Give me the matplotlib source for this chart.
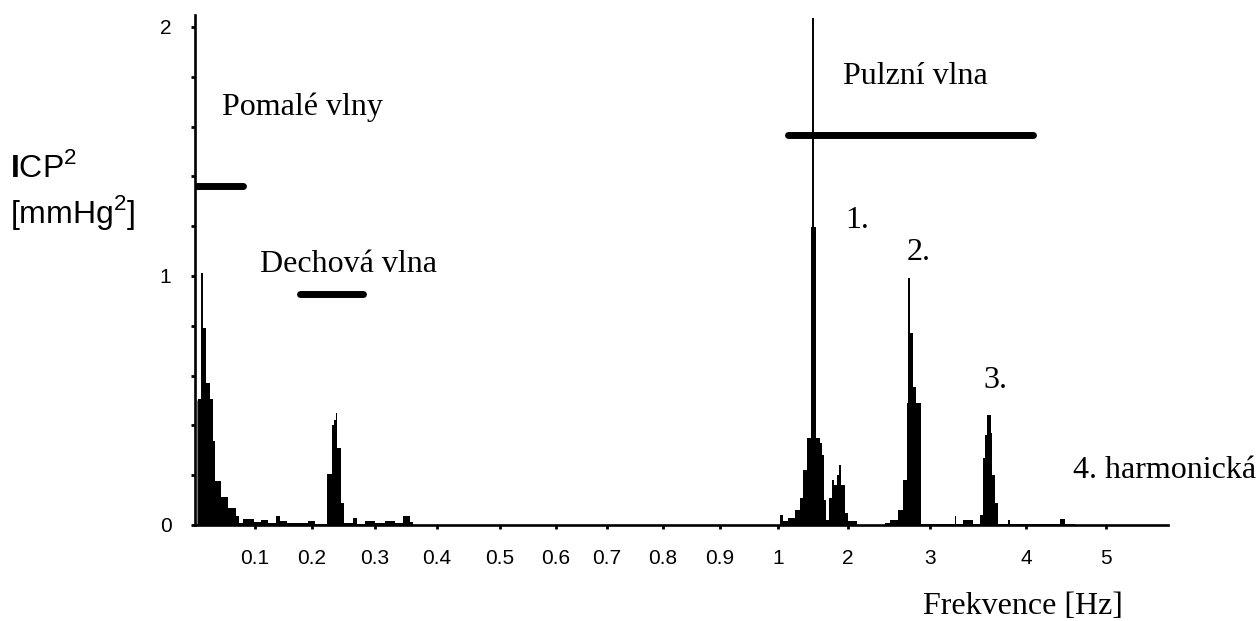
import numpy as np
import matplotlib
matplotlib.use("Agg")
import matplotlib.pyplot as plt

plt.rcParams["font.family"] = "Liberation Sans"
plt.rcParams["xtick.labelsize"] = 15
plt.rcParams["ytick.labelsize"] = 15
plt.rcParams["mathtext.fontset"] = "custom"
plt.rcParams["mathtext.rm"] = "Liberation Sans"
plt.rcParams["mathtext.bf"] = "Liberation Sans:bold"

# frequency axis is piecewise: fine steps below 1 Hz, coarse above
tick_hz = [0, 0.1, 0.2, 0.3, 0.4, 0.5, 0.6, 0.7, 0.8, 0.9, 1, 2, 3, 4, 5, 5.77]
tick_pos = [0, 60, 117, 180, 242, 305, 361, 412, 468, 525, 583, 653, 735, 831, 911, 973]
tick_labels = ["0.1", "0.2", "0.3", "0.4", "0.5", "0.6", "0.7", "0.8", "0.9",
               "1", "2", "3", "4", "5"]

# ICP power spectrum, slow waves + respiratory wave (Hz edges, mmHg^2)
low_edges = [0.005, 0.0122, 0.0178, 0.025, 0.0305, 0.0333, 0.0433, 0.0555, 0.0678,
             0.0733, 0.0805, 0.0988, 0.1105, 0.1223, 0.1368, 0.1439, 0.1556, 0.193,
             0.2048, 0.2243, 0.2313, 0.2349, 0.2381, 0.2402, 0.2456, 0.2508, 0.2646,
             0.271, 0.284, 0.30, 0.316, 0.332, 0.345, 0.356, 0.361]
low_power = [0.504, 0.792, 0.571, 0.504, 0.337, 0.176, 0.113, 0.069, 0.038,
             0.009, 0.025, 0.012, 0.02, 0.01, 0.035, 0.015, 0.008, 0.015,
             0.005, 0.205, 0.40, 0.42, 0.45, 0.31, 0.09, 0.01, 0.03,
             0.005, 0.015, 0.01, 0.015, 0.01, 0.035, 0.012]

# pulse wave and its harmonics
pulse_edges = [1.029, 1.076, 1.147, 1.243, 1.314, 1.361, 1.41, 1.467, 1.543, 1.6,
               1.633, 1.661, 1.686, 1.729, 1.767, 1.8, 1.839, 1.871, 1.9, 1.957,
               2.004, 2.106, 2.451, 2.512, 2.613, 2.674, 2.716, 2.728, 2.756, 2.789,
               2.826, 2.887, 3.26, 3.271, 3.347, 3.445, 3.521, 3.556, 3.573, 3.597,
               3.632, 3.649, 3.677, 3.711, 3.816, 3.833, 4.425, 4.4875, 4.6125]
pulse_power = [0.04, 0.015, 0.03, 0.06, 0.11, 0.22, 0.35, 1.198, 0.35,
               0.33, 0.28, 0.10, 0.02, 0.11, 0.18, 0.16, 0.20, 0.24, 0.16,
               0.05, 0.015, 0.0, 0.008, 0.02, 0.06, 0.18, 0.49, 0.99, 0.77,
               0.555, 0.489, 0.004, 0.035, 0.004, 0.02, 0.004, 0.04, 0.27, 0.36,
               0.44, 0.37, 0.20, 0.09, 0.004, 0.02, 0.005, 0.025, 0.006]

# single narrow lines rising above the bins
spike_hz = [0.0122, 1.496]
spike_top = [1.013, 2.035]

# frequency bands
band_names = ["Pomalé vlny", "Dechová vlna", "Pulzní vlna"]
band_lo = [0.0, 0.179, 1.147]
band_hi = [0.08, 0.2804, 4.091]
band_level = [1.361, 0.926, 1.566]

harmonics = ["1.", "2.", "3.", "4. harmonická"]

W, H = 1258, 621


def fpos(x, y):
    return x / W, 1 - y / H


def forward(f):
    return np.interp(f, tick_hz, tick_pos)


def inverse(p):
    return np.interp(p, tick_pos, tick_hz)


fig = plt.figure(figsize=(W / 100, H / 100), dpi=100)
ax = fig.add_axes([195 / W, 1 - 525 / H, (1168 - 195) / W, (525 - 15) / H])
ax.set_xscale("function", functions=(forward, inverse))
ax.set_xlim(0, 5.77)
ax.set_ylim(0, 2.048)

ax.stairs(low_power, low_edges, fill=True, color="black", lw=0)
ax.stairs(pulse_power, pulse_edges, fill=True, color="black", lw=0)
ax.vlines(spike_hz, 0, spike_top, color="black", lw=1.4)
ax.vlines([0.0028], 0, [0.5], color="#777777", lw=0.8)

for lo, hi, lev in zip(band_lo, band_hi, band_level):
    ax.plot([lo, hi], [lev, lev], color="black", lw=5, solid_capstyle="round")

for side in ["top", "right"]:
    ax.spines[side].set_visible(False)
for side in ["left", "bottom"]:
    ax.spines[side].set_linewidth(1.9)

ax.set_xticks(tick_hz[1:-1], tick_labels)
ax.tick_params(axis="x", length=3, width=2, pad=14)
ax.set_yticks([0, 1, 2], ["0", "1", "2"])
ax.set_yticks(np.arange(0, 2.01, 0.2), minor=True)
ax.tick_params(axis="y", which="both", length=3, width=2, pad=14)

serif = dict(fontfamily="Liberation Serif", fontsize=23, va="center")
fig.text(*fpos(222, 107), band_names[0], ha="left", **serif)
fig.text(*fpos(260, 265), band_names[1], ha="left", **serif)
fig.text(*fpos(843, 77), band_names[2], ha="left", **serif)
fig.text(*fpos(845, 220), harmonics[0], ha="left", **serif)
fig.text(*fpos(907, 252), harmonics[1], ha="left", **serif)
fig.text(*fpos(983, 380), harmonics[2], ha="left", **serif)
fig.text(*fpos(1073, 471), harmonics[3], ha="left", **serif)
fig.text(*fpos(923, 607), "Frekvence [Hz]", ha="left", **serif)

sans = dict(fontsize=23, va="center", ha="left")
fig.text(*fpos(10, 168), r"$\mathbf{I}\mathrm{CP}^{\mathrm{2}}$", **sans)
fig.text(*fpos(10, 213), r"[mmHg$^{\mathrm{2}}$]", **sans)

fig.savefig("out.png", dpi=100)
